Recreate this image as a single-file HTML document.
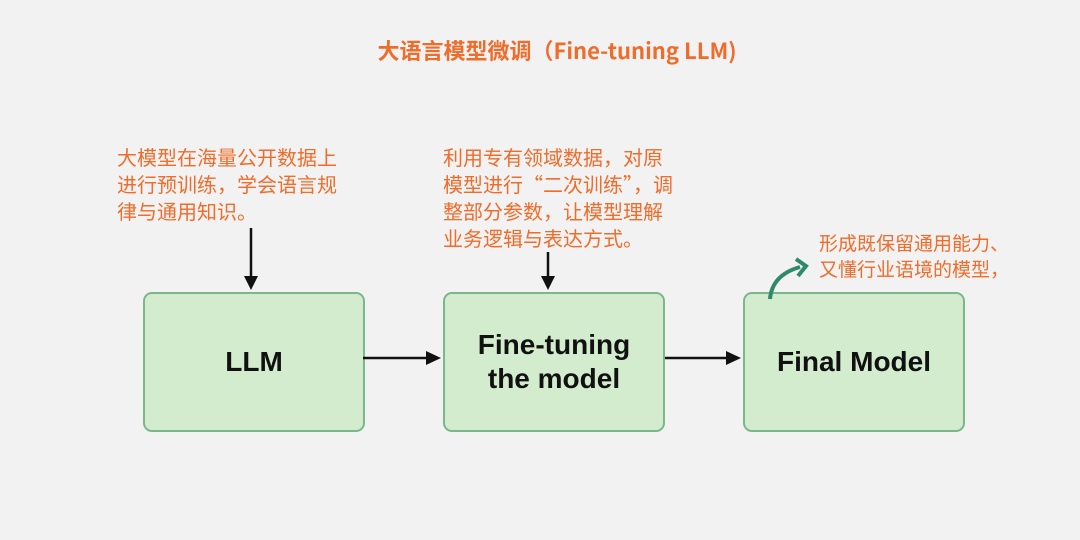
<!DOCTYPE html>
<html><head><meta charset="utf-8"><style>
body{margin:0;width:1080px;height:540px;background:#f2f2f2;position:relative;overflow:hidden;font-family:"Liberation Sans","Noto Sans CJK SC",sans-serif}
.t{position:absolute;color:#ef6c2a;font-family:"Noto Sans CJK SC",sans-serif;white-space:nowrap}
.box{position:absolute;top:292px;width:218px;height:136px;background:#d3eccd;border:2px solid #7ab88c;border-radius:9px;display:flex;align-items:center;justify-content:center;text-align:center;font-weight:bold;font-size:28px;color:#111;line-height:34px}
</style></head><body>
<div class="t" style="left:0;width:1114px;text-align:center;top:34px;font-size:22px;font-weight:bold">大语言模型微调（Fine-tuning LLM)</div>
<div class="t" style="left:117px;top:143px;font-size:20px;line-height:27px">大模型在海量公开数据上<br>进行预训练，学会语言规<br>律与通用知识。</div>
<div class="t" style="left:443px;top:143px;font-size:20px;line-height:27px">利用专有领域数据，对原<br>模型进行“二次训练”，调<br>整部分参数，让模型理解<br>业务逻辑与表达方式。</div>
<div class="t" style="left:819px;top:230px;font-size:19px;line-height:26px">形成既保留通用能力、<br>又懂行业语境的模型，</div>
<div class="box" style="left:143px">LLM</div>
<div class="box" style="left:443px">Fine-tuning<br>the model</div>
<div class="box" style="left:743px">Final Model</div>
<svg width="1080" height="540" style="position:absolute;left:0;top:0">
<g stroke="#111" stroke-width="2.5" fill="none">
<line x1="251" y1="228" x2="251" y2="278"/>
<line x1="548" y1="252" x2="548" y2="278"/>
<line x1="363" y1="358" x2="428" y2="358"/>
<line x1="665" y1="358" x2="728" y2="358"/>
</g>
<g fill="#111">
<polygon points="244,276 258,276 251,290"/>
<polygon points="541,276 555,276 548,290"/>
<polygon points="426,351 426,365 441,358"/>
<polygon points="726,351 726,365 741,358"/>
</g>
<path d="M770 299 Q772 275 800 267" stroke="#2f8a6a" stroke-width="4" fill="none"/>
<path d="M796 259 L806 266 L798 276" stroke="#2f8a6a" stroke-width="4" fill="none"/>
</svg>
</body></html>
